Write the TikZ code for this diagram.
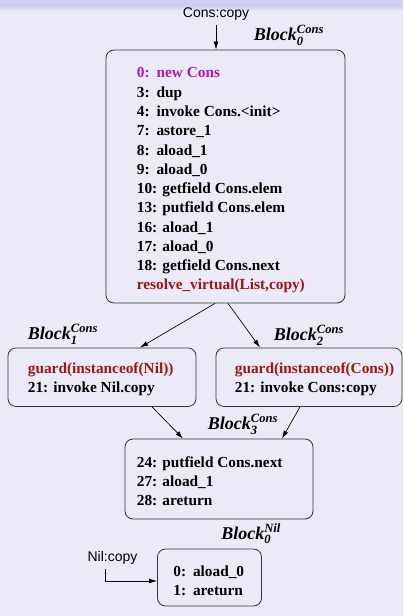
\documentclass[tikz,border=0pt]{standalone}
\usepackage{amsmath}
\usepackage{fontspec}
\setmainfont{Liberation Serif}
\newfontfamily\entryfont{Liberation Sans}
\usetikzlibrary{arrows.meta,positioning}
\definecolor{slidebg}{RGB}{235,235,247}
\definecolor{slidetop}{RGB}{208,208,240}
\definecolor{allocol}{RGB}{176,24,176}
\definecolor{guardcol}{RGB}{160,20,20}
\newcommand\blk[2]{Block$^{\text{#2}}_{\text{#1}}$}
\newcommand\sgap{\hspace{0.45em}}
\tikzset{
  block/.style={draw=black!80, line width=0.6pt, rounded corners=6pt},
  code/.style={inner sep=0pt, align=left, anchor=west, font=\fontsize{11.5}{14.45}\selectfont\bfseries},
  blabel/.style={inner sep=0pt, anchor=base west, font=\fontsize{13.5}{15}\selectfont\bfseries\itshape},
  entry/.style={font=\entryfont\fontsize{10.5}{12}\selectfont},
  flow/.style={-{Latex[length=6pt,width=3.6pt]}, line width=0.5pt}
}

\begin{document}
\begin{tikzpicture}[x=0.75pt,y=-0.75pt]
  % slide background
  \fill[slidebg] (0,0) rectangle (403,616);
  \fill[slidetop] (0,0) rectangle (403,6);
  \shade[top color=slidetop,bottom color=slidebg] (0,6) rectangle (403,11);
  \useasboundingbox (0,0) rectangle (403,616);

  % blocks
  \node[block, minimum width=179.25pt, minimum height=189.75pt] (b0) at (225.5,176.5) {};
  \node[block, minimum width=141pt, minimum height=43.9pt] (b1) at (102,377.2) {};
  \node[block, minimum width=139.5pt, minimum height=43.9pt] (b2) at (309,377.2) {};
  \node[block, minimum width=141pt, minimum height=60pt] (b3) at (219,479) {};
  \node[block, minimum width=78pt, minimum height=42.75pt] (bnil) at (209.5,577.5) {};

  % code
  \node[code] (c0) at ([shift={(31,4)}]b0.west) {%
    \textcolor{allocol}{0:\sgap new Cons}\\
    3:\sgap dup\\
    4:\sgap invoke Cons.<init>\\
    7:\sgap astore\_1\\
    8:\sgap aload\_1\\
    9:\sgap aload\_0\\
    10: getfield Cons.elem\\
    13: putfield Cons.elem\\
    16: aload\_1\\
    17: aload\_0\\
    18: getfield Cons.next\\
    \textcolor{guardcol}{resolve\_virtual(List,copy)}};
  \node[code] (c1) at ([shift={(20,2)}]b1.west) {%
    \textcolor{guardcol}{guard(instanceof(Nil))}\\
    21: invoke Nil.copy};
  \node[code] (c2) at ([shift={(19,2)}]b2.west) {%
    \textcolor{guardcol}{guard(instanceof(Cons))}\\
    21: invoke Cons:copy};
  \node[code] (c3) at ([shift={(12,2)}]b3.west) {%
    24: putfield Cons.next\\
    27: aload\_1\\
    28: areturn};
  \node[code] (cnil) at ([shift={(16,3)}]bnil.west) {%
    0:\sgap aload\_0\\
    1:\sgap areturn};

  % labels
  \node[blabel] (l0) at ([shift={(148,-9)}]b0.north west) {\blk{0}{Cons}};
  \node[blabel] (l1) at ([shift={(20,-8)}]b1.north west) {\blk{1}{Cons}};
  \node[blabel] (l2) at ([shift={(58,-7)}]b2.north west) {\blk{2}{Cons}};
  \node[blabel] (l3) at ([shift={(83,-9)}]b3.north west) {\blk{3}{Cons}};
  \node[blabel] (lnil) at ([shift={(64,-9.5)}]bnil.north west) {\blk{0}{Nil}};

  % entries
  \node[entry] (cons) at (216,14) {Cons:copy};
  \node[entry] (nil) at (112.5,558) {Nil:copy};

  % flow
  \draw[flow] (cons) -- (cons |- b0.north);
  \draw[flow] ([shift={(-10.5,0)}]b0.south) -- ([shift={(38,0)}]b1.north);
  \draw[flow] ([shift={(2.5,0)}]b0.south) -- ([shift={(-49,0)}]b2.north);
  \draw[flow] ([shift={(50,0)}]b1.south) -- ([shift={(-36,0)}]b3.north);
  \draw[flow] ([shift={(-9,0)}]b2.south) -- ([shift={(63,0)}]b3.north);
  \draw[flow] ([shift={(-7.5,0)}]nil.south) |- ([shift={(0,3.5)}]bnil.west);
\end{tikzpicture}
\end{document}
